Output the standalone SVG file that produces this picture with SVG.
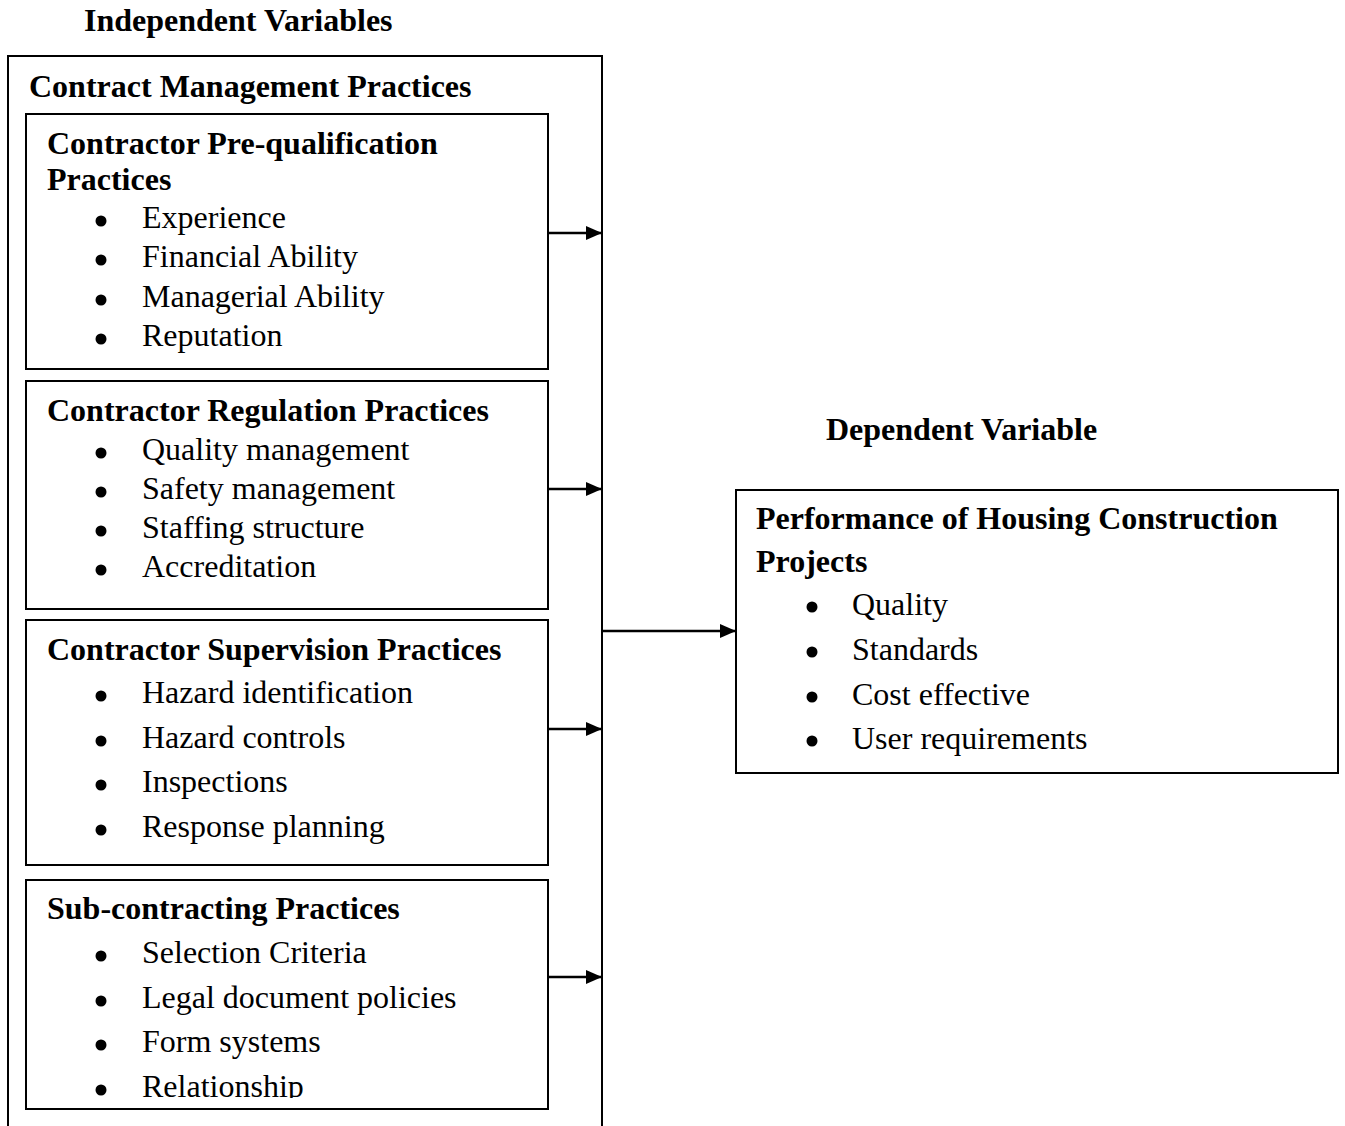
<svg xmlns="http://www.w3.org/2000/svg" width="1345" height="1126" viewBox="0 0 1345 1126">
<style>
.b{font-family:"Liberation Serif","Times New Roman",serif;font-weight:bold;font-size:32px;fill:#000}
.t{font-family:"Liberation Serif","Times New Roman",serif;font-size:32px;fill:#000}
.bu{fill:#000}
.box{fill:none;stroke:#000;stroke-width:2}
.c{stroke:#000;stroke-width:2.5;fill:none}
</style>
<defs>
<marker id="ah" markerWidth="18" markerHeight="14" refX="16" refY="7" orient="auto" markerUnits="userSpaceOnUse">
<path d="M0,0 L16,7 L0,14 z" fill="#000"/>
</marker>
<clipPath id="clip4"><rect x="26" y="880" width="522" height="218"/></clipPath>
</defs>
<rect width="1345" height="1126" fill="#fff"/>
<text class="b" x="84" y="31">Independent Variables</text>
<text class="b" x="826" y="440">Dependent Variable</text>
<g id="outer">
<path class="box" d="M8,1130 V56 H602 V1130"/>
<text class="b" x="29" y="97">Contract Management Practices</text>
</g>
<g id="box1">
<rect class="box" x="26" y="114" width="522" height="255"/>
<text class="b" x="47" y="154">Contractor Pre-qualification</text>
<text class="b" x="47" y="190">Practices</text>
<g class="bu">
<circle cx="101" cy="221" r="5.5"/><circle cx="101" cy="260" r="5.5"/><circle cx="101" cy="300" r="5.5"/><circle cx="101" cy="339" r="5.5"/>
</g>
<g class="t">
<text x="142" y="228">Experience</text>
<text x="142" y="267">Financial Ability</text>
<text x="142" y="307">Managerial Ability</text>
<text x="142" y="346">Reputation</text>
</g>
</g>
<g id="box2">
<rect class="box" x="26" y="381" width="522" height="228"/>
<text class="b" x="47" y="421">Contractor Regulation Practices</text>
<g class="bu">
<circle cx="101" cy="453" r="5.5"/><circle cx="101" cy="492" r="5.5"/><circle cx="101" cy="531" r="5.5"/><circle cx="101" cy="570" r="5.5"/>
</g>
<g class="t">
<text x="142" y="460">Quality management</text>
<text x="142" y="499">Safety management</text>
<text x="142" y="538">Staffing structure</text>
<text x="142" y="577">Accreditation</text>
</g>
</g>
<g id="box3">
<rect class="box" x="26" y="620" width="522" height="245"/>
<text class="b" x="47" y="660">Contractor Supervision Practices</text>
<g class="bu">
<circle cx="101" cy="696" r="5.5"/><circle cx="101" cy="741" r="5.5"/><circle cx="101" cy="785" r="5.5"/><circle cx="101" cy="830" r="5.5"/>
</g>
<g class="t">
<text x="142" y="703">Hazard identification</text>
<text x="142" y="748">Hazard controls</text>
<text x="142" y="792">Inspections</text>
<text x="142" y="837">Response planning</text>
</g>
</g>
<g id="box4">
<rect class="box" x="26" y="880" width="522" height="229"/>
<text class="b" x="47" y="919">Sub-contracting Practices</text>
<g clip-path="url(#clip4)">
<g class="bu">
<circle cx="101" cy="956" r="5.5"/><circle cx="101" cy="1001" r="5.5"/><circle cx="101" cy="1045" r="5.5"/><circle cx="101" cy="1090" r="5.5"/>
</g>
<g class="t">
<text x="142" y="963">Selection Criteria</text>
<text x="142" y="1008">Legal document policies</text>
<text x="142" y="1052">Form systems</text>
<text x="142" y="1097">Relationship</text>
</g>
</g>
</g>
<g id="dependent">
<rect class="box" x="736" y="490" width="602" height="283"/>
<text class="b" x="756" y="529">Performance of Housing Construction</text>
<text class="b" x="756" y="572">Projects</text>
<g class="bu">
<circle cx="812" cy="607" r="5.5"/><circle cx="812" cy="652" r="5.5"/><circle cx="812" cy="697" r="5.5"/><circle cx="812" cy="741" r="5.5"/>
</g>
<g class="t">
<text x="852" y="615">Quality</text>
<text x="852" y="660">Standards</text>
<text x="852" y="705">Cost effective</text>
<text x="852" y="749">User requirements</text>
</g>
</g>
<g id="connectors">
<line class="c" x1="549" y1="233" x2="602" y2="233" marker-end="url(#ah)"/>
<line class="c" x1="549" y1="489" x2="602" y2="489" marker-end="url(#ah)"/>
<line class="c" x1="549" y1="729" x2="602" y2="729" marker-end="url(#ah)"/>
<line class="c" x1="549" y1="977" x2="602" y2="977" marker-end="url(#ah)"/>
<line class="c" x1="603" y1="631" x2="736" y2="631" marker-end="url(#ah)"/>
</g>
</svg>
